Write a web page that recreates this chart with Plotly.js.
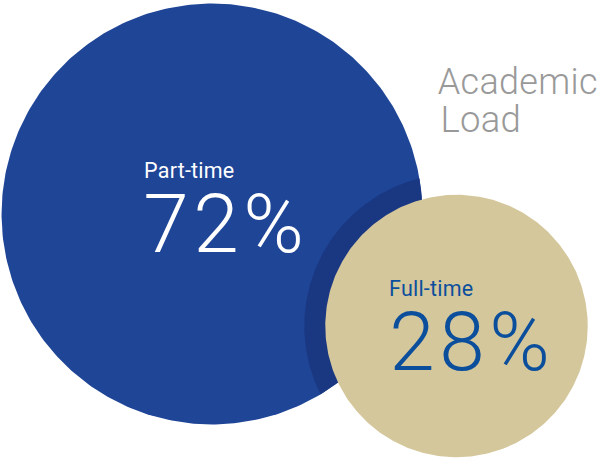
<!DOCTYPE html>
<html>
<head>
<meta charset="utf-8">
<script src="https://cdn.plot.ly/plotly-3.0.1.min.js"></script>
<style>
html,body{margin:0;padding:0;background:#fff;}
#chart{width:603px;height:460px;}
g.annotation[data-index="1"] text, g.annotation[data-index="3"] text { letter-spacing: 4.5px; }
g.annotation[data-index="0"] text, g.annotation[data-index="2"] text { letter-spacing: 0.2px; }
g.annotation[data-index="4"] text, g.annotation[data-index="5"] text { letter-spacing: 0.3px; }
</style>
</head>
<body>
<div id="chart"></div>
<script>
// ---- data ----
const categories = ['Part-time', 'Full-time'];
const values = [72, 28];
const valueLabels = ['72%', '28%'];
const chartTitle = ['Academic', 'Load'];

// ---- layout config (positions / styles) ----
const centers = [[212, 214], [456.5, 326]];
const radiusScale = 24.8;           // radius = scale * sqrt(value)  (area-proportional)
const ringWidth = 21;
const fills = ['#1f4597', '#d5c79c'];
const ringColor = '#1a3782';
const labelColors = ['#ffffff', '#0b4f9c'];

const radii = values.map(v => radiusScale * Math.sqrt(v));

function circlePts(cx, cy, r, a0, a1, n) {
  const xs = [], ys = [];
  for (let i = 0; i <= n; i++) {
    const a = a0 + (a1 - a0) * i / n;
    xs.push(cx + r * Math.cos(a));
    ys.push(cy + r * Math.sin(a));
  }
  return [xs, ys];
}

const traces = [];
// big circle
{
  const [xs, ys] = circlePts(centers[0][0], centers[0][1], radii[0], 0, 2 * Math.PI, 360);
  traces.push({x: xs, y: ys, type: 'scatter', mode: 'lines', fill: 'toself', fillcolor: fills[0], line: {width: 0, color: fills[0]}, hoverinfo: 'skip', name: categories[0]});
}
// dark ring (lens: intersection of big circle and enlarged small circle)
{
  const [c1x, c1y] = centers[0], [c2x, c2y] = centers[1];
  const r1 = radii[0], r2 = radii[1] + ringWidth;
  const d = Math.hypot(c2x - c1x, c2y - c1y);
  const t12 = Math.atan2(c2y - c1y, c2x - c1x);
  const t21 = t12 + Math.PI;
  const a1 = Math.acos((d * d + r1 * r1 - r2 * r2) / (2 * d * r1));
  const a2 = Math.acos((d * d + r2 * r2 - r1 * r1) / (2 * d * r2));
  const [xa, ya] = circlePts(c2x, c2y, r2, t21 - a2, t21 + a2, 200);
  const [xb, yb] = circlePts(c1x, c1y, r1, t12 - a1, t12 + a1, 200);
  traces.push({x: xa.concat(xb), y: ya.concat(yb), type: 'scatter', mode: 'lines', fill: 'toself', fillcolor: ringColor, line: {width: 0, color: ringColor}, hoverinfo: 'skip', showlegend: false});
}
// small circle
{
  const [xs, ys] = circlePts(centers[1][0], centers[1][1], radii[1], 0, 2 * Math.PI, 360);
  traces.push({x: xs, y: ys, type: 'scatter', mode: 'lines', fill: 'toself', fillcolor: fills[1], line: {width: 0, color: fills[1]}, hoverinfo: 'skip', name: categories[1]});
}

const labelPos = [
  {name: [143, 170], value: [148, 224]},
  {name: [388, 288], value: [394, 342]}
];
const annotations = [];
categories.forEach((c, i) => {
  annotations.push({x: labelPos[i].name[0], y: labelPos[i].name[1], xref: 'x', yref: 'y', text: c, showarrow: false, xanchor: 'left', yanchor: 'middle',
    font: {family: 'Roboto, sans-serif', size: 21.5, color: labelColors[i], weight: 400}});
  annotations.push({x: labelPos[i].value[0], y: labelPos[i].value[1], xref: 'x', yref: 'y', text: valueLabels[i], showarrow: false, xanchor: 'left', yanchor: 'middle',
    font: {family: 'Roboto, sans-serif', size: 82, color: labelColors[i], weight: 300}});
});
annotations.push({x: 437, y: 82, xref: 'x', yref: 'y', text: chartTitle[0], showarrow: false, xanchor: 'left', yanchor: 'middle',
  font: {family: 'Roboto, sans-serif', size: 36, color: '#999999', weight: 300}});
annotations.push({x: 439, y: 119, xref: 'x', yref: 'y', text: chartTitle[1], showarrow: false, xanchor: 'left', yanchor: 'middle',
  font: {family: 'Roboto, sans-serif', size: 36.5, color: '#999999', weight: 300}});

const layout = {
  width: 603, height: 460,
  margin: {l: 0, r: 0, t: 0, b: 0, pad: 0},
  paper_bgcolor: '#ffffff', plot_bgcolor: '#ffffff',
  showlegend: false,
  xaxis: {range: [0, 603], visible: false, fixedrange: true},
  yaxis: {range: [460, 0], visible: false, fixedrange: true},
  annotations: annotations
};

Plotly.newPlot('chart', traces, layout, {displayModeBar: false, staticPlot: true});
</script>
</body>
</html>
